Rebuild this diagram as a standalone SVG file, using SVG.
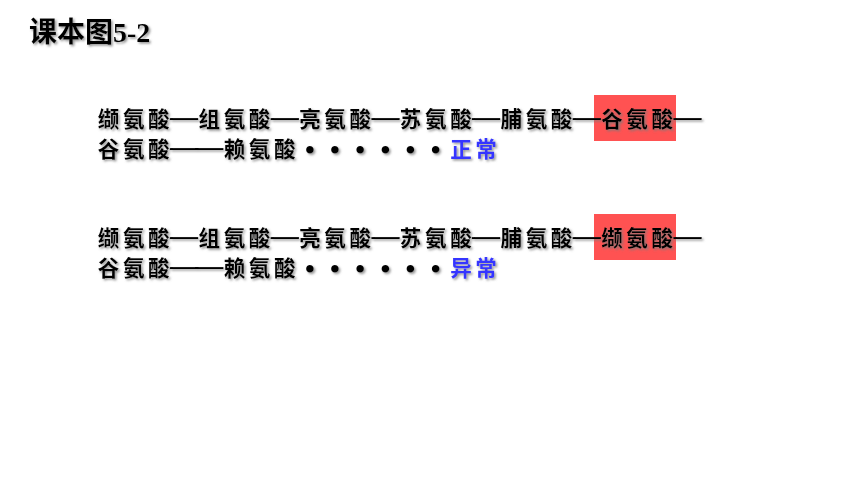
<svg xmlns="http://www.w3.org/2000/svg" width="860" height="484" viewBox="0 0 860 484">
  <style>
    .seq { font-family: "Noto Sans CJK SC", "Noto Sans", sans-serif; font-size: 21.5px; font-weight: bold; fill: #000; text-anchor: middle; }
    .dash { font-family: "Liberation Serif", serif; font-size: 28px; font-weight: bold; }
    .dot { font-family: "Liberation Serif", serif; font-size: 28px; font-weight: bold; }
    .blue { fill: #3535FF; }
    .hl { fill: #FF5252; }
    .title { font-family: "Noto Sans CJK SC", "Noto Sans", sans-serif; font-size: 28px; font-weight: bold; fill: #000; }
    .num { font-family: "Liberation Serif", "Noto Sans CJK SC", serif; font-weight: bold; }
  </style>
  <defs>
    <filter id="shadow" x="-5%" y="-20%" width="110%" height="150%">
      <feDropShadow dx="1.6" dy="1.6" stdDeviation="0.8" flood-color="#7a7a7a" flood-opacity="0.8"/>
    </filter>
  </defs>
  <rect width="860" height="484" fill="#FFFFFF"/>

  <g id="title">
    <text class="title" x="29" y="42" filter="url(#shadow)">课本图<tspan class="num">5-2</tspan></text>
  </g>

  <g id="seq-normal">
    <rect class="hl" x="594" y="95" width="82" height="46"/>
    <text class="seq" y="127" filter="url(#shadow)" x="108.5 133.7 158.8 184.0 209.2 234.4 259.5 284.7 309.9 335.0 360.2 385.4 410.5 435.7 460.9 486.1 511.2 536.4 561.6 586.7 611.9 637.1 662.2 687.4">缬氨酸<tspan class="dash" baseline-shift="2.5">—</tspan>组氨酸<tspan class="dash" baseline-shift="2.5">—</tspan>亮氨酸<tspan class="dash" baseline-shift="2.5">—</tspan>苏氨酸<tspan class="dash" baseline-shift="2.5">—</tspan>脯氨酸<tspan class="dash" baseline-shift="2.5">—</tspan>谷氨酸<tspan class="dash" baseline-shift="2.5">—</tspan></text>
    <text class="seq" y="157" filter="url(#shadow)" x="108.5 133.7 158.8 184.0 209.2 234.4 259.5 284.7 309.9 335.0 360.2 385.4 410.5 435.7 460.9 486.1">谷氨酸<tspan class="dash" baseline-shift="2.5">——</tspan>赖氨酸<tspan class="dot" baseline-shift="-2">••••••</tspan><tspan class="blue">正常</tspan></text>
  </g>

  <g id="seq-abnormal">
    <rect class="hl" x="594" y="214" width="82" height="46"/>
    <text class="seq" y="246" filter="url(#shadow)" x="108.5 133.7 158.8 184.0 209.2 234.4 259.5 284.7 309.9 335.0 360.2 385.4 410.5 435.7 460.9 486.1 511.2 536.4 561.6 586.7 611.9 637.1 662.2 687.4">缬氨酸<tspan class="dash" baseline-shift="2.5">—</tspan>组氨酸<tspan class="dash" baseline-shift="2.5">—</tspan>亮氨酸<tspan class="dash" baseline-shift="2.5">—</tspan>苏氨酸<tspan class="dash" baseline-shift="2.5">—</tspan>脯氨酸<tspan class="dash" baseline-shift="2.5">—</tspan>缬氨酸<tspan class="dash" baseline-shift="2.5">—</tspan></text>
    <text class="seq" y="276" filter="url(#shadow)" x="108.5 133.7 158.8 184.0 209.2 234.4 259.5 284.7 309.9 335.0 360.2 385.4 410.5 435.7 460.9 486.1">谷氨酸<tspan class="dash" baseline-shift="2.5">——</tspan>赖氨酸<tspan class="dot" baseline-shift="-2">••••••</tspan><tspan class="blue">异常</tspan></text>
  </g>
</svg>
